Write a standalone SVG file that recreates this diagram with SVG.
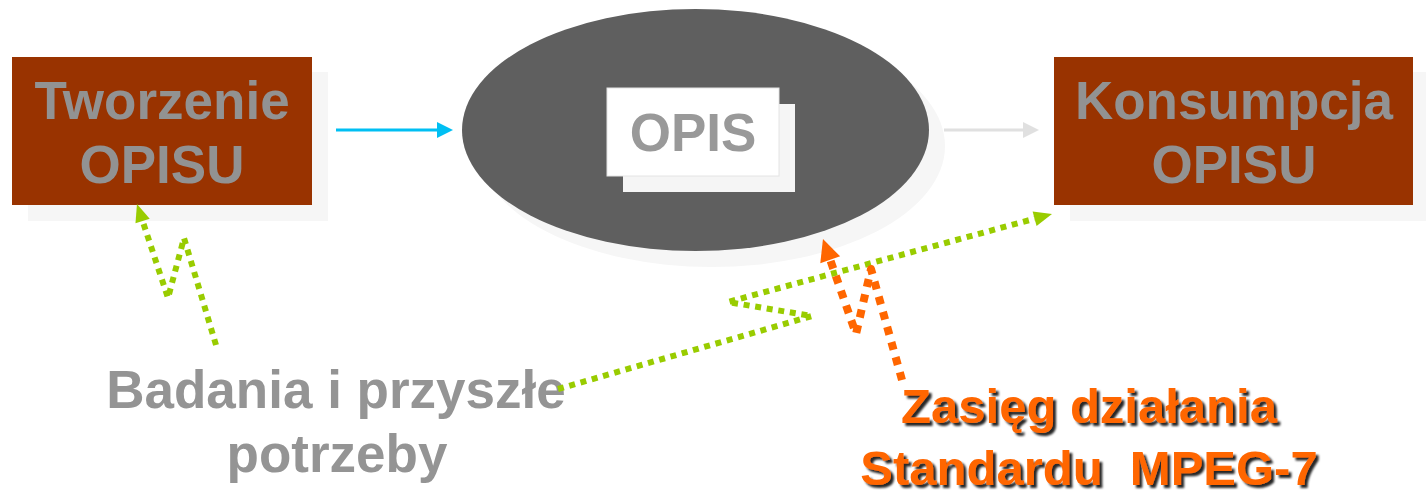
<svg xmlns="http://www.w3.org/2000/svg" width="1426" height="493" viewBox="0 0 1426 493">
  <style>
    .shadow { fill: #f6f6f6; }
    .box { fill: #993300; }
    .boxtext { font-family: "Liberation Sans", Arial, sans-serif; font-weight: bold; font-size: 53px; fill: #929292; text-anchor: middle; }
    .green { fill: none; stroke: #99cc00; stroke-width: 6; stroke-dasharray: 6 5.7; stroke-linejoin: round; }
    .orange { fill: none; stroke: #ff6600; stroke-width: 8; stroke-dasharray: 8 7.7; stroke-linejoin: round; }
    .label { font-family: "Liberation Sans", Arial, sans-serif; font-weight: bold; font-size: 53px; fill: #949494; text-anchor: middle; }
    .scope { font-family: "Liberation Sans", Arial, sans-serif; font-weight: bold; font-size: 49px; fill: #ff6600; text-anchor: middle; }
  </style>
  <defs>
    <marker id="headBlue" markerUnits="userSpaceOnUse" markerWidth="16" markerHeight="18" refX="0" refY="8" orient="auto" overflow="visible">
      <path d="M0,0 L16,8 L0,16 z" fill="#00bff3"/>
    </marker>
    <marker id="headGray" markerUnits="userSpaceOnUse" markerWidth="16" markerHeight="18" refX="0" refY="8" orient="auto" overflow="visible">
      <path d="M0,0 L16,8 L0,16 z" fill="#e0e0e0"/>
    </marker>
    <marker id="headGreen" markerUnits="userSpaceOnUse" markerWidth="18" markerHeight="16" refX="0" refY="7.5" orient="auto" overflow="visible">
      <path d="M0,0 L18,7.5 L0,15 z" fill="#99cc00"/>
    </marker>
    <marker id="headOrange" markerUnits="userSpaceOnUse" markerWidth="22" markerHeight="22" refX="0" refY="10.5" orient="auto" overflow="visible">
      <path d="M0,0 L22,10.5 L0,21 z" fill="#ff6600"/>
    </marker>
    <filter id="textShadow" x="-10%" y="-20%" width="120%" height="150%">
      <feDropShadow dx="3" dy="3" stdDeviation="1.2" flood-color="#000000" flood-opacity="0.85"/>
    </filter>
  </defs>

  <!-- creation of the description -->
  <g id="tworzenie">
    <rect class="shadow" x="28" y="72" width="300" height="149"/>
    <rect class="box" x="12" y="57" width="300" height="148"/>
    <text class="boxtext" x="162" y="119">Tworzenie</text>
    <text class="boxtext" x="162" y="183">OPISU</text>
  </g>

  <!-- the description itself -->
  <g id="opis">
    <ellipse class="shadow" cx="711.5" cy="146" rx="233.5" ry="121"/>
    <ellipse cx="695.5" cy="130" rx="233.5" ry="121" fill="#5f5f5f"/>
    <rect x="623" y="104" width="172" height="88" fill="#f5f5f5"/>
    <rect x="607" y="88" width="172" height="88" fill="#ffffff" stroke="#e4e4e4" stroke-width="1"/>
    <text class="boxtext" x="693" y="151" fill="#999999" style="fill:#999999">OPIS</text>
  </g>

  <!-- consumption of the description -->
  <g id="konsumpcja">
    <rect class="shadow" x="1070" y="72" width="356" height="149"/>
    <rect class="box" x="1054" y="57" width="359" height="148"/>
    <text class="boxtext" x="1234" y="119">Konsumpcja</text>
    <text class="boxtext" x="1234" y="183">OPISU</text>
  </g>

  <!-- research and future needs -->
  <g id="badania">
    <text class="label" x="336" y="408">Badania i przyszłe</text>
    <text class="label" x="337" y="472">potrzeby</text>
  </g>

  <!-- scope of the standard -->
  <g id="zasieg">
    <g filter="url(#textShadow)">
      <text class="scope" x="1089" y="423">Zasięg działania</text>
      <text class="scope" x="1089" y="485" xml:space="preserve">Standardu  MPEG-7</text>
    </g>
  </g>

  <g id="connectors">
    <line x1="336" y1="130" x2="437" y2="130" stroke="#00bff3" stroke-width="3" marker-end="url(#headBlue)"/>
    <line x1="944" y1="130" x2="1023" y2="130" stroke="#e0e0e0" stroke-width="3" marker-end="url(#headGray)"/>
    <path class="green" d="M216,345 L184,238 L168,298 L142.6,221" marker-end="url(#headGreen)"/>
    <path class="green" d="M558,389 L812,316 L728,302 L1034.6,218.7" marker-end="url(#headGreen)"/>
    <path class="orange" d="M902,380 L871,269 L856,334 L830.2,259.8" marker-end="url(#headOrange)"/>
  </g>
</svg>
